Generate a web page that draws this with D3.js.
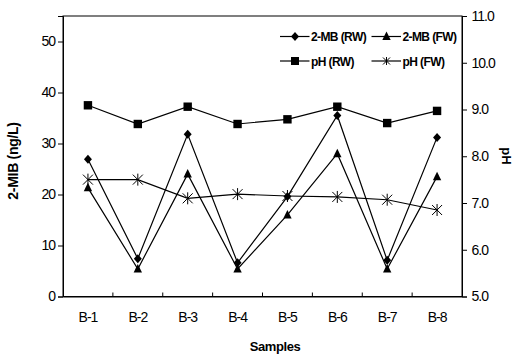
<!DOCTYPE html>
<html><head><meta charset="utf-8">
<script src="https://cdn.jsdelivr.net/npm/d3@7"></script>
<style>body{margin:0;background:#fff;} text{font-family:"Liberation Sans",Arial,sans-serif;}</style>
</head><body><svg id="c" width="517" height="359"></svg>
<script>
const categories = ["B-1","B-2","B-3","B-4","B-5","B-6","B-7","B-8"];
const mbRW = [26.9, 7.4, 31.8, 6.6, 19.6, 35.5, 7.1, 31.2];
const mbFW = [21.3, 5.4, 24.0, 5.4, 16.0, 28.0, 5.4, 23.5];
const phRW = [9.09, 8.69, 9.06, 8.69, 8.79, 9.06, 8.71, 8.97];
const phFW = [7.50, 7.50, 7.10, 7.19, 7.15, 7.13, 7.07, 6.85];
const leftTicks = [0,10,20,30,40,50];
const rightTicks = [5,6,7,8,9,10,11];

const svg = d3.select("#c");
const L=63, R=462, T=16, B=296.5;
const x = d3.scaleBand().domain(categories).range([L,R]);
const yL = d3.scaleLinear().domain([0,55]).range([B,T]);
const yR = d3.scaleLinear().domain([5,11]).range([B,T]);

// frame
svg.append("rect").attr("x",L).attr("y",T).attr("width",R-L).attr("height",B-T)
  .attr("fill","none").attr("stroke","#000").attr("stroke-width",1);

// left axis
const gl = svg.append("g").attr("transform",`translate(${L},0)`)
  .call(d3.axisLeft(yL).tickValues(leftTicks).tickSize(5).tickPadding(3).tickFormat(d3.format("d")));
// right axis
const gr = svg.append("g").attr("transform",`translate(${R},0)`)
  .call(d3.axisRight(yR).tickValues(rightTicks).tickSize(5).tickPadding(4.5).tickFormat(d3.format(".1f")));
// bottom axis: ticks between categories, pointing inward
const gb = svg.append("g").attr("transform",`translate(0,${B})`)
  .call(d3.axisBottom(x).tickSize(0).tickPadding(16));
const between = categories.slice(1).map(c=>x(c));
svg.append("g").selectAll("line").data(between).join("line")
  .attr("x1",d=>d).attr("x2",d=>d).attr("y1",B).attr("y2",B-4).attr("stroke","#000");

[gl,gr,gb].forEach(g=>{
  g.select(".domain").attr("stroke","#000");
  g.selectAll(".tick line").attr("stroke","#000");
  g.selectAll("text").attr("font-size",14).attr("fill","#000").attr("letter-spacing","-1px")
   .attr("font-family","'Liberation Sans',Arial,sans-serif");
});

// axis titles
svg.append("text").attr("transform",`translate(18,161) rotate(-90)`).attr("text-anchor","middle")
  .attr("font-size",14).attr("font-weight","bold").attr("letter-spacing","-0.3px").text("2-MIB (ng/L)");
svg.append("text").attr("transform",`translate(502,156) rotate(90)`).attr("text-anchor","middle")
  .attr("font-size",13).attr("font-weight","bold").text("pH");
svg.append("text").attr("x",275).attr("y",351).attr("text-anchor","middle")
  .attr("font-size",13).attr("font-weight","bold").attr("letter-spacing","-0.4px").text("Samples");

const cx = c => x(c)+x.bandwidth()/2;

function marker(g, type){
  if(type==="diamond"){
    g.append("path").attr("d","M0,-4.5L4,0L0,4.5L-4,0Z").attr("fill","#000");
  } else if(type==="triangle"){
    g.append("path").attr("d","M0,-5L4.2,3.5L-4.2,3.5Z").attr("fill","#000");
  } else if(type==="square"){
    g.append("rect").attr("x",-4.2).attr("y",-4.2).attr("width",8.4).attr("height",8.4).attr("fill","#000");
  } else if(type==="star"){
    g.append("path").attr("d","M-5,-5L5,5M-5,5L5,-5M0,-6L0,6").attr("stroke","#000").attr("stroke-width",1).attr("fill","none");
  }
}

const series = [
  {name:"2-MB (RW)", vals:mbRW, y:yL, m:"diamond"},
  {name:"2-MB (FW)", vals:mbFW, y:yL, m:"triangle"},
  {name:"pH (RW)", vals:phRW, y:yR, m:"square"},
  {name:"pH (FW)", vals:phFW, y:yR, m:"star"}
];
series.forEach(s=>{
  const line = d3.line().x((d,i)=>cx(categories[i])).y(d=>s.y(d));
  svg.append("path").datum(s.vals).attr("d",line).attr("fill","none").attr("stroke","#000").attr("stroke-width",1.2);
  s.vals.forEach((v,i)=>{
    const g = svg.append("g").attr("transform",`translate(${cx(categories[i])},${s.y(v)})`);
    marker(g,s.m);
  });
});

// legend
const legPos = [[280,36.5],[371.5,36.5],[280,61],[371.5,61]];
series.forEach((s,i)=>{
  const [lx,ly] = legPos[i];
  const g = svg.append("g").attr("transform",`translate(${lx},${ly})`);
  g.append("line").attr("x1",0).attr("x2",29.5).attr("y1",0).attr("y2",0).attr("stroke","#000").attr("stroke-width",1.2);
  const mg = g.append("g").attr("transform",`translate(15,0)`);
  if(s.m==="star"){
    mg.append("path").attr("d","M-3.5,-3.5L3.5,3.5M-3.5,3.5L3.5,-3.5M0,-4L0,4").attr("stroke","#000").attr("fill","none");
  } else if(s.m==="square"){
    mg.append("rect").attr("x",-4).attr("y",-4).attr("width",8).attr("height",8).attr("fill","#000");
  } else marker(mg,s.m);
  g.append("text").attr("x",31).attr("y",4.5).attr("font-size",12).attr("font-weight","bold")
    .attr("letter-spacing","-0.6px").text(s.name);
});
</script></body></html>
